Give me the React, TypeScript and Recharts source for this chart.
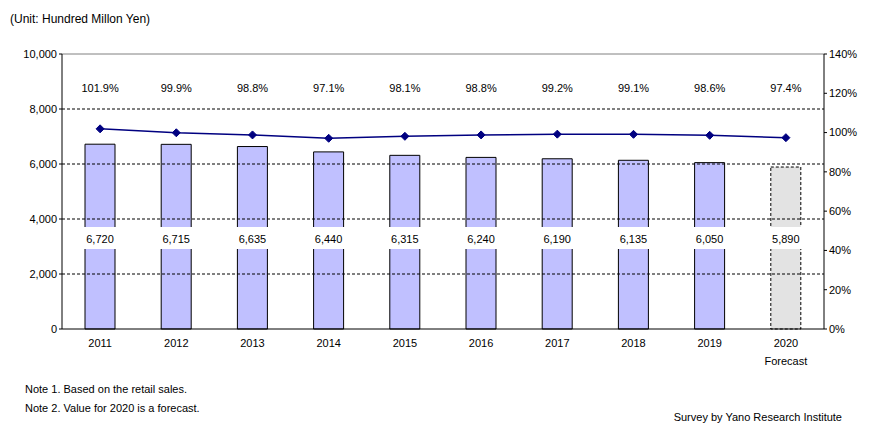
import React from "react";
import { ComposedChart, Bar, Line, XAxis, YAxis, Cell, LabelList, ReferenceLine } from "recharts";

const years = ["2011", "2012", "2013", "2014", "2015", "2016", "2017", "2018", "2019", "2020"];
const sales = [6720, 6715, 6635, 6440, 6315, 6240, 6190, 6135, 6050, 5890];
const growth = [101.9, 99.9, 98.8, 97.1, 98.1, 98.8, 99.2, 99.1, 98.6, 97.4];
const forecastYear = "2020";
const leftTicks = [0, 2000, 4000, 6000, 8000, 10000];
const rightTicks = [0, 20, 40, 60, 80, 100, 120, 140];
const dashedLines = [2000, 4000, 6000, 8000];

const data = years.map((year, i) => ({ year, sales: sales[i], growth: growth[i] }));

const FONT = "'Liberation Sans', Arial, sans-serif";
const BAR_FILL = "#C0C0FF";
const FORECAST_FILL = "#E3E3E3";

const YearTick = (props: any) => {
  const { x, y, payload } = props;
  return (
    <g>
      <text x={x} y={y + 10} textAnchor="middle" fontSize={11} fill="#000" fontFamily={FONT}>
        {payload.value}
      </text>
      {payload.value === forecastYear && (
        <text x={x} y={y + 28} textAnchor="middle" fontSize={11} fill="#000" fontFamily={FONT}>
          Forecast
        </text>
      )}
    </g>
  );
};

const SalesLabel = (props: any) => {
  const { x, width, value } = props;
  const cx = x + width / 2;
  return (
    <g>
      <rect x={x - 1.5} y={227} width={width + 3} height={22} fill="#fff" />
      <text x={cx} y={243} textAnchor="middle" fontSize={11} fill="#000" fontFamily={FONT}>
        {value.toLocaleString("en-US")}
      </text>
    </g>
  );
};

const GrowthLabel = (props: any) => {
  const { x, value } = props;
  return (
    <text x={x} y={92} textAnchor="middle" fontSize={11} fill="#000" fontFamily={FONT}>
      {value.toFixed(1)}%
    </text>
  );
};

const Diamond = (props: any) => {
  const { cx, cy, index } = props;
  const r = 4;
  return (
    <path
      key={`d-${index}`}
      d={`M${cx},${cy - r} L${cx + r},${cy} L${cx},${cy + r} L${cx - r},${cy} Z`}
      fill="#000080"
      stroke="#000080"
    />
  );
};

export default function App() {
  return (
    <div style={{ position: "absolute", left: 0, top: 0, width: 872, height: 432, background: "#fff", fontFamily: FONT }}>
      <ComposedChart
        width={872}
        height={432}
        data={data}
        margin={{ top: 54, right: 8, bottom: 73, left: 8 }}
      >
        <XAxis
          dataKey="year"
          xAxisId="x"
          tick={<YearTick />}
          tickLine={false}
          axisLine={{ stroke: "#000" }}
          height={30}
          interval={0}
        />
        <YAxis
          yAxisId="left"
          domain={[0, 10000]}
          ticks={leftTicks}
          width={54}
          tickSize={3}
          axisLine={{ stroke: "#000" }}
          tickLine={{ stroke: "#000" }}
          tick={{ fontSize: 11, fill: "#000", fontFamily: FONT }}
          tickFormatter={(v: number) => v.toLocaleString("en-US")}
        />
        <YAxis
          yAxisId="right"
          orientation="right"
          domain={[0, 140]}
          ticks={rightTicks}
          width={40}
          tickSize={3}
          axisLine={{ stroke: "#000" }}
          tickLine={{ stroke: "#000" }}
          tick={{ fontSize: 11, fill: "#000", fontFamily: FONT, textAnchor: "start" }}
          tickFormatter={(v: number) => `${v}%`}
        />
        {dashedLines.map((v) => (
          <ReferenceLine key={v} y={v} yAxisId="left" xAxisId="x" stroke="#000" strokeDasharray="3 2" strokeWidth={1} />
        ))}
        <ReferenceLine y={10000} yAxisId="left" xAxisId="x" stroke="#808080" strokeWidth={1} />
        <Bar dataKey="sales" xAxisId="x" yAxisId="left" barSize={30} isAnimationActive={false}>
          {data.map((d) => (
            <Cell
              key={d.year}
              fill={d.year === forecastYear ? FORECAST_FILL : BAR_FILL}
              stroke="#000"
              strokeWidth={1}
              strokeDasharray={d.year === forecastYear ? "3 2" : undefined}
            />
          ))}
          <LabelList dataKey="sales" content={<SalesLabel />} />
        </Bar>
        <Line
          dataKey="growth"
          xAxisId="x"
          yAxisId="right"
          stroke="#000080"
          strokeWidth={1.5}
          dot={<Diamond />}
          activeDot={false}
          isAnimationActive={false}
        >
          <LabelList dataKey="growth" content={<GrowthLabel />} />
        </Line>
      </ComposedChart>
      <div style={{ position: "absolute", left: 10, top: 12, fontSize: 12 }}>(Unit: Hundred Millon Yen)</div>
      <div style={{ position: "absolute", left: 25, top: 383, fontSize: 11 }}>Note 1. Based on the retail sales.</div>
      <div style={{ position: "absolute", left: 25, top: 402, fontSize: 11 }}>Note 2. Value for 2020 is a forecast.</div>
      <div style={{ position: "absolute", right: 30, top: 411, fontSize: 11 }}>Survey by Yano Research Institute</div>
    </div>
  );
}
